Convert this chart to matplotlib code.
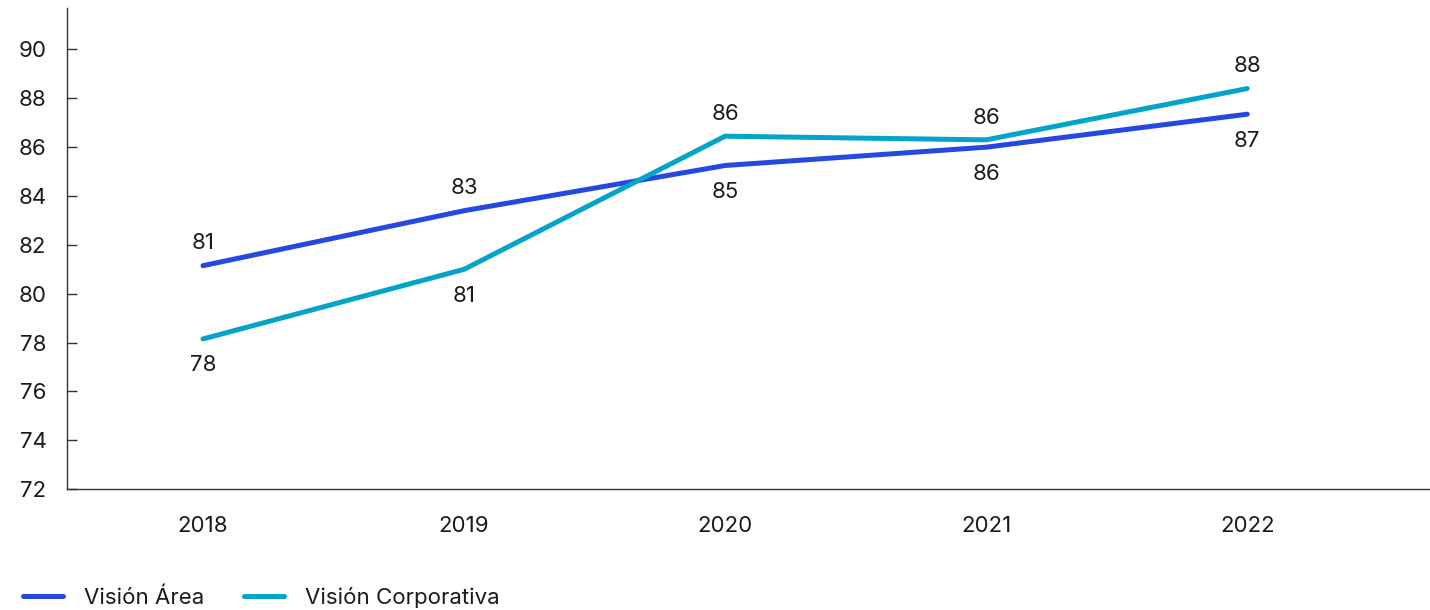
import matplotlib.pyplot as plt
import numpy as np

years = ["2018", "2019", "2020", "2021", "2022"]
vision_area = [81.15, 83.4, 85.25, 86.0, 87.35]
vision_corp = [78.15, 81.0, 86.45, 86.3, 88.4]
area_labels = ["81", "83", "85", "86", "87"]
corp_labels = ["78", "81", "86", "86", "88"]
# +1 = label above the point, -1 = below
area_side = [1, 1, -1, -1, -1]
corp_side = [-1, -1, 1, 1, 1]

AREA_COLOR = "#2448E0"
CORP_COLOR = "#03A4C9"
TEXT = "#1a1a1a"

plt.rcParams['font.family'] = ['Inter', 'DejaVu Sans']

fig = plt.figure(figsize=(14.3, 6.1), dpi=100)
ax = fig.add_axes([0.047, 0.198, 0.953, 0.789])


def offset(side):
    # labels sit a bit lower than symmetric
    return 16 if side > 0 else -19


x = np.arange(len(years))
l1, = ax.plot(x, vision_area, color=AREA_COLOR, lw=3.6, solid_capstyle='round',
              label="Visión Área")
l2, = ax.plot(x, vision_corp, color=CORP_COLOR, lw=3.6, solid_capstyle='round',
              label="Visión Corporativa")

for xi, v, lab, s in zip(x, vision_area, area_labels, area_side):
    ax.annotate(lab, (xi, v), xytext=(0, offset(s)), textcoords='offset points',
                ha='center', va='center', fontsize=16, color=TEXT)
for xi, v, lab, s in zip(x, vision_corp, corp_labels, corp_side):
    ax.annotate(lab, (xi, v), xytext=(0, offset(s)), textcoords='offset points',
                ha='center', va='center', fontsize=16, color=TEXT)

ax.set_xlim(-0.52, 4.7)
ax.set_ylim(72, 91.7)
ax.set_yticks(np.arange(72, 91, 2))
ax.set_xticks(x)
ax.set_xticklabels(years)

for sp in ['top', 'right']:
    ax.spines[sp].set_visible(False)
for sp in ['left', 'bottom']:
    ax.spines[sp].set_color('#333333')
    ax.spines[sp].set_linewidth(1.0)

ax.tick_params(axis='y', direction='in', length=7, width=1, color='#333333',
               labelsize=16, labelcolor=TEXT, pad=15)
ax.tick_params(axis='x', length=0, labelsize=16, labelcolor=TEXT, pad=19)

fig.legend(handles=[l1, l2], loc='center left', bbox_to_anchor=(0.002, 0.021),
           ncol=2, frameon=False, fontsize=16, handlelength=1.8,
           handletextpad=0.95, columnspacing=1.8, labelcolor=TEXT)

fig.savefig("out.png", dpi=100)
